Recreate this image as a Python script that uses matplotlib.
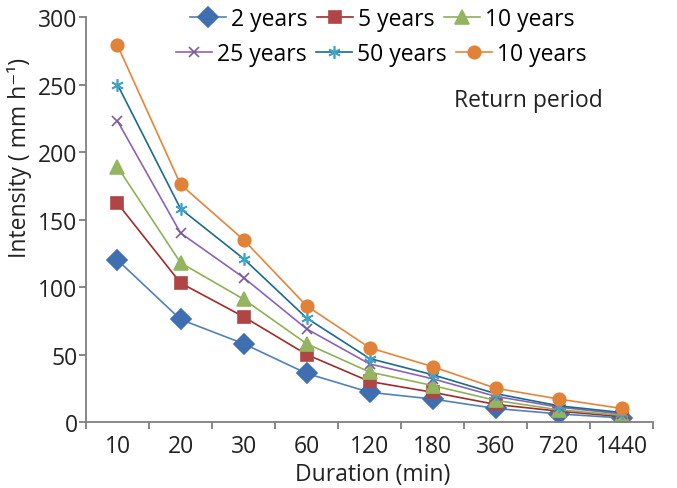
import matplotlib
matplotlib.use('Agg')
import matplotlib.pyplot as plt
from matplotlib.ticker import FixedLocator

plt.rcParams['font.family'] = ['Open Sans', 'DejaVu Sans']

durations = ['10', '20', '30', '60', '120', '180', '360', '720', '1440']

y2 = [120, 76, 58, 36, 22, 17, 10, 6, 3]
y5 = [162, 103, 78, 50, 30, 22, 13, 8, 4]
y10 = [189, 118, 91, 58, 37, 27, 16, 9, 5]
y25 = [223, 140, 107, 69, 43, 32, 19, 11, 6]
y50 = [250, 158, 121, 77, 47, 35, 21, 12, 7]
y100 = [279, 176, 135, 86, 55, 41, 25, 17, 10]

series = [
    ('2 years', y2, '#4F81BD', '#3F6FB0', 'D', 10),
    ('5 years', y5, '#A32A2A', '#B04545', 's', 9),
    ('10 years', y10, '#8DB255', '#93B560', '^', 10),
    ('25 years', y25, '#8C63B5', '#7A5C9E', 'x', 7),
    ('50 years', y50, '#1C6A8E', '#3FA3C8', (6, 2, 0), 9),
    ('10 years', y100, '#E8843A', '#E08339', 'o', 9),
]

fig, ax = plt.subplots(figsize=(6.77, 4.89), dpi=100)
fig.subplots_adjust(left=0.127, right=0.965, bottom=0.135, top=0.963)

x = list(range(len(durations)))
handles = []
for label, vals, lc, mc, m, ms in series:
    h, = ax.plot(x, vals, color=lc, lw=1.2, marker=m, markersize=ms,
                 markerfacecolor=mc, markeredgecolor=mc, markeredgewidth=1.2,
                 label=label)
    handles.append(h)

ax.set_xlim(-0.5, len(durations) - 0.5)
ax.set_ylim(0, 300)
ax.set_yticks(range(0, 301, 50))
ax.set_xticks(x)
ax.set_xticklabels(durations)
ax.xaxis.set_minor_locator(FixedLocator([i - 0.5 for i in range(len(durations) + 1)]))
ax.tick_params(axis='x', which='major', length=0, pad=9, labelsize=16.5, colors='#222222')
ax.tick_params(axis='x', which='minor', length=5, width=1.3, color='#7f7f7f')
ax.tick_params(axis='y', length=5, width=1.3, color='#7f7f7f', labelsize=16.5,
               labelcolor='#222222', pad=1)

for s in ['top', 'right']:
    ax.spines[s].set_visible(False)
for s in ['left', 'bottom']:
    ax.spines[s].set_color('#7f7f7f')
    ax.spines[s].set_linewidth(1.3)

ax.set_xlabel('Duration (min)', fontsize=16.5, color='#222222')
ax.xaxis.set_label_coords(0.506, -0.098)
ax.set_ylabel('Intensity ( mm h\u207b\u00b9)', fontsize=16.5, color='#222222')
ax.yaxis.set_label_coords(-0.095, 0.654)

# legend: two rows, each centred like the original
leg_kw = dict(loc='center', ncol=3, frameon=False, fontsize=16.5,
              handlelength=1.57, handletextpad=0.22, columnspacing=0.4,
              borderaxespad=0, borderpad=0)
leg1 = ax.legend(handles[:3], [s[0] for s in series[:3]],
                 bbox_to_anchor=(0.522, 0.995), **leg_kw)
ax.add_artist(leg1)
ax.legend(handles[3:], [s[0] for s in series[3:]],
          bbox_to_anchor=(0.52, 0.909), **leg_kw)

ax.text(0.78, 0.795, 'Return period', transform=ax.transAxes, ha='center',
        va='center', fontsize=16.5, color='#222222')

fig.savefig('out.png', dpi=100)
